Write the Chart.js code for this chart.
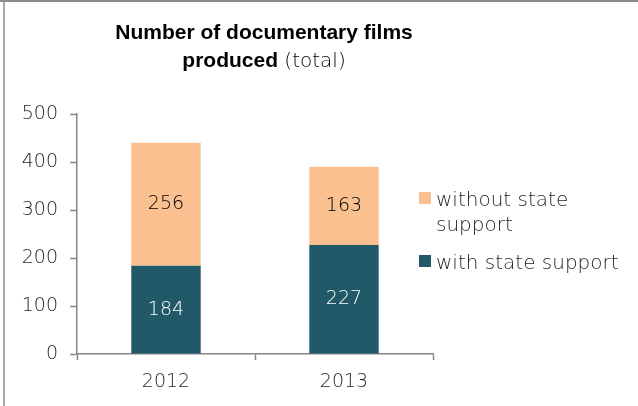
<!DOCTYPE html>
<html lang="en">
<head>
    <meta charset="UTF-8">
    <script src="https://cdn.jsdelivr.net/npm/chart.js@4.4.0/dist/chart.umd.min.js"></script>
    <title>Documentary films</title>
</head>
<style>
  html, body {
    margin: 0;
    padding: 0;
    background-color: white;
  }
  .chart-container {
    position: relative;
    width: 638px;
    height: 406px;
  }
</style>
<body>
    <div class="chart-container">
      <canvas id="myChart"></canvas>
    </div>
    <script>
    // films per year, split by funding
    const years = ['2012', '2013'];
    const withSupport = [184, 227];
    const withoutSupport = [256, 163];

    const titleLine1 = 'Number of documentary films';
    const titleLine2Bold = 'produced';
    const titleLine2Normal = ' (total)';

    var chartColors = {
      teal: '#215968',
      peach: '#FAC090',
      text: '#262626',
      axis: '#868686'
    };
    const labelFont = '"DejaVu Sans", sans-serif';

    // white background + grey frame on the top and left edge
    const framePlugin = {
      id: 'frame',
      beforeDraw(chart) {
        const ctx = chart.ctx;
        ctx.save();
        ctx.fillStyle = 'white';
        ctx.fillRect(0, 0, chart.width, chart.height);
        ctx.strokeStyle = '#8c8c8c';
        ctx.lineWidth = 2;
        ctx.beginPath();
        ctx.moveTo(0, 1);
        ctx.lineTo(chart.width, 1);
        ctx.stroke();
        ctx.lineWidth = 1.5;
        ctx.beginPath();
        ctx.moveTo(4, 0);
        ctx.lineTo(4, chart.height);
        ctx.stroke();
        ctx.restore();
      }
    };

    // two-line title, second line mixes bold and normal weight
    const titlePlugin = {
      id: 'mixedTitle',
      afterDraw(chart) {
        const ctx = chart.ctx;
        const cx = 264;
        const boldFont = 'bold 21px "Liberation Sans", sans-serif';
        const normFont = '300 20px ' + labelFont;
        ctx.save();
        ctx.fillStyle = '#000';
        ctx.textBaseline = 'alphabetic';
        ctx.textAlign = 'center';
        ctx.font = boldFont;
        ctx.fillText(titleLine1, cx, 39);

        const w1 = ctx.measureText(titleLine2Bold).width;
        ctx.font = normFont;
        const w2 = ctx.measureText(titleLine2Normal).width;
        let x = cx - (w1 + w2) / 2;
        ctx.textAlign = 'left';
        ctx.font = boldFont;
        ctx.fillText(titleLine2Bold, x, 67);
        ctx.font = normFont;
        ctx.fillStyle = '#000';
        ctx.fillText(titleLine2Normal, x + w1, 67);
        ctx.restore();
      }
    };

    // value printed in the middle of every bar segment
    const valueLabelPlugin = {
      id: 'valueLabels',
      afterDatasetsDraw(chart) {
        const ctx = chart.ctx;
        ctx.save();
        ctx.font = '300 19px ' + labelFont;
        ctx.textAlign = 'center';
        ctx.textBaseline = 'middle';
        chart.data.datasets.forEach(function(dataset, i) {
          const meta = chart.getDatasetMeta(i);
          meta.data.forEach(function(bar, j) {
            ctx.fillStyle = dataset.labelColor;
            ctx.fillText(String(dataset.data[j]), bar.x, (bar.y + bar.base) / 2);
          });
        });
        ctx.restore();
      }
    };

    // legend on the right, top stack segment first, long labels wrap
    const sideLegendPlugin = {
      id: 'sideLegend',
      afterDraw(chart) {
        const ctx = chart.ctx;
        const items = chart.data.datasets.slice().reverse();
        const boxX = 419, textX = 436;
        const baselines = [[206, 231], [269]];
        ctx.save();
        ctx.font = '300 20px ' + labelFont;
        ctx.textBaseline = 'alphabetic';
        ctx.textAlign = 'left';
        items.forEach(function(ds, i) {
          const ys = baselines[i];
          ctx.fillStyle = ds.backgroundColor;
          ctx.fillRect(boxX, ys[0] - 14, 12, 12);
          ctx.fillStyle = chartColors.text;
          ds.legendLines.forEach(function(line, k) {
            ctx.fillText(line, textX, ys[k]);
          });
        });
        ctx.restore();
      }
    };

    var config = {
      type: 'bar',
      data: {
        labels: years,
        datasets: [{
          label: 'with state support',
          legendLines: ['with state support'],
          data: withSupport,
          backgroundColor: chartColors.teal,
          labelColor: '#ffffff',
          barPercentage: 0.39,
          categoryPercentage: 1
        },
        {
          label: 'without state support',
          legendLines: ['without state', 'support'],
          data: withoutSupport,
          backgroundColor: chartColors.peach,
          labelColor: '#000000',
          barPercentage: 0.39,
          categoryPercentage: 1
        }]
      },
      options: {
        responsive: true,
        maintainAspectRatio: false,
        animation: false,
        layout: {
          padding: { left: 0, top: 114, right: 205, bottom: 0 }
        },
        scales: {
          x: {
            stacked: true,
            grid: {
              drawOnChartArea: false,
              color: chartColors.axis,
              tickLength: 6,
              tickWidth: 1.5
            },
            border: { color: chartColors.axis, width: 1.5 },
            ticks: {
              color: chartColors.text,
              font: { family: labelFont, size: 19, weight: 300 },
              padding: 11
            },
            afterFit(scale) { scale.height = 52; }
          },
          y: {
            stacked: true,
            min: 0,
            max: 500,
            ticks: {
              stepSize: 100,
              color: chartColors.text,
              font: { family: labelFont, size: 19, weight: 300 },
              padding: 12
            },
            grid: {
              drawOnChartArea: false,
              color: chartColors.axis,
              tickLength: 7,
              tickWidth: 1.5
            },
            border: { color: chartColors.axis, width: 1.5 },
            afterFit(scale) { scale.width = 77; }
          }
        },
        plugins: {
          legend: { display: false },
          title: { display: false },
          tooltip: { enabled: false }
        }
      },
      plugins: [framePlugin, valueLabelPlugin, titlePlugin, sideLegendPlugin]
    };

    window.onload = function() {
      var ctx = document.getElementById('myChart').getContext('2d');
      window.myChart = new Chart(ctx, config);
    };
    </script>
</body>
</html>
